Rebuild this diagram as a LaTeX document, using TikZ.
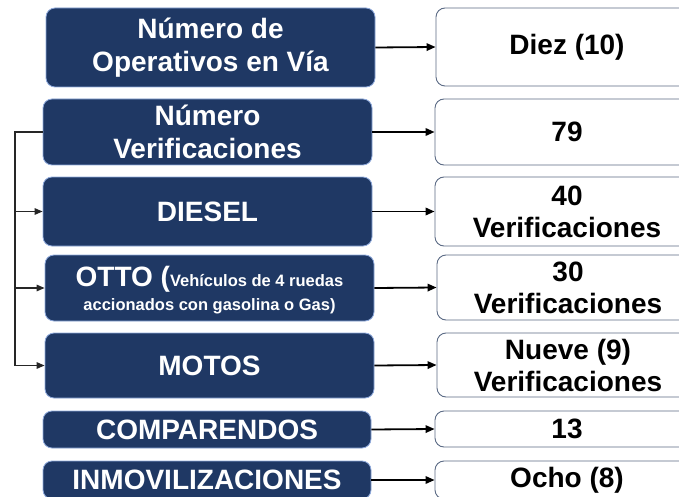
\documentclass[tikz,border=0pt]{standalone}
\usepackage{fontspec}
\setmainfont{Liberation Sans}
\usetikzlibrary{arrows.meta}
\definecolor{navy}{HTML}{1F3864}
\definecolor{navyedge}{HTML}{8FAADC}
\definecolor{greyedge}{HTML}{5B6B85}
\tikzset{
  darkbox/.style={draw=navyedge, line width=0.8pt, fill=navy, rounded corners=9pt,
    text=white, font=\bfseries\fontsize{28}{33}\selectfont, align=center, inner sep=0pt},
  darktext/.style={text=white, font=\bfseries\fontsize{28}{30}\selectfont, align=center, inner sep=0pt},
  valbox/.style={draw=greyedge, line width=0.9pt, fill=white, rounded corners=9pt,
    text=black, font=\bfseries\fontsize{28}{32}\selectfont, align=center, inner sep=0pt},
  arr/.style={-{Triangle[length=9pt,width=7.5pt]}, line width=1.8pt, black},
  barr/.style={-{Triangle[length=8pt,width=6.5pt]}, line width=1.3pt, black!85},
  bline/.style={line width=1.3pt, black!85}
}
\begin{document}
\begin{tikzpicture}[x=1pt,y=-1pt]
\clip (0,0) rectangle (679,497);
\fill[white] (0,0) rectangle (679,497);
% left boxes
\node[darkbox, minimum width=329pt, minimum height=79pt] (n1) at (210.5,47.5) {Número de\\Operativos en Vía};
\node[darkbox, minimum width=329pt, minimum height=66pt] (n2) at (207.5,132) {Número\\Verificaciones};
\node[darkbox, minimum width=329pt, minimum height=69pt] (n3) at (207.5,211.5) {DIESEL};
\node[darkbox, minimum width=329pt, minimum height=66pt] (n4) at (209.5,288) {};
\node[darktext] (t4) at ([yshift=-2pt]n4.center) {OTTO ({\fontsize{16.5}{20}\selectfont Vehículos de 4 ruedas}\\[-6pt]{\fontsize{16.5}{20}\selectfont accionados con gasolina o Gas)}};
\node[darkbox, minimum width=329pt, minimum height=65pt] (n5) at (209.5,365.5) {MOTOS};
\node[darkbox, minimum width=328pt, minimum height=37pt] (n6) at (207,429.5) {COMPARENDOS};
\node[darkbox, minimum width=328pt, minimum height=38pt] (n7) at (207,480) {INMOVILIZACIONES};
% right boxes
\node[valbox, minimum width=262pt, minimum height=78pt] (v1) at (567,47) {Diez (10)};
\node[valbox, minimum width=264pt, minimum height=66pt] (v2) at (567,132) {79};
\node[valbox, minimum width=264pt, minimum height=69pt] (v3) at (567,211.5) {40\\Verificaciones};
\node[valbox, minimum width=262pt, minimum height=65pt] (v4) at (568,287.5) {30\\Verificaciones};
\node[valbox, minimum width=262pt, minimum height=64pt] (v5) at (568,365) {Nueve (9)\\Verificaciones};
\node[valbox, minimum width=264pt, minimum height=36pt] (v6) at (567,429) {13};
\node[valbox, minimum width=264pt, minimum height=38pt] (v7) at (567,480) {Ocho (8)};
% arrows
\foreach \i in {1,...,7}{\draw[arr] (n\i.east) -- (v\i.west);}
% bracket
\coordinate (bk) at (15,132);
\draw[bline] (n2.west) -- (bk) -- (bk |- n5.west);
\draw[barr] (bk |- n3.west) -- (n3.west);
\draw[barr] (bk |- n4.west) -- (n4.west);
\draw[barr] (bk |- n5.west) -- (n5.west);
\end{tikzpicture}
\end{document}
